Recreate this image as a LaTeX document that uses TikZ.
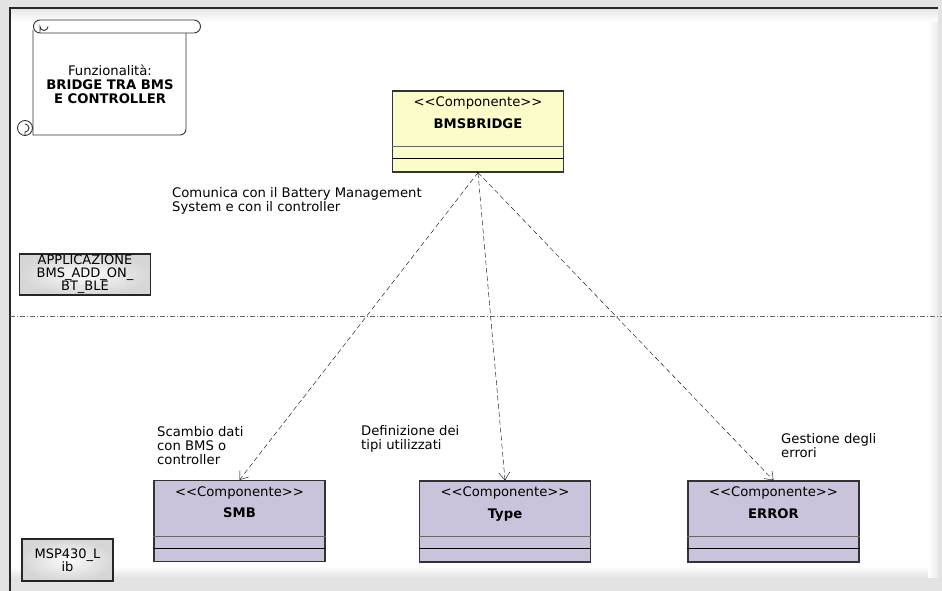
\documentclass[tikz,border=0pt]{standalone}
\usepackage{fontspec}
\setmainfont{DejaVu Sans}
\usepackage{tikz}
\usetikzlibrary{arrows.meta}
\definecolor{compyellow}{HTML}{FCFCCB}
\definecolor{complilac}{HTML}{CBC3DC}
\tikzset{
  every node/.style={font=\fontsize{13.2}{14}\selectfont, inner sep=0pt},
  compbox/.style={draw=black!80, line width=1.2pt, minimum width=171pt, minimum height=81pt},
  tagbox/.style={draw=black!85, line width=1.5pt, shading=radial, inner color=gray!3, outer color=gray!32, align=center, font=\fontsize{13}{13}\selectfont},
  dep/.style={dash pattern=on 5pt off 3pt, -{Straight Barb[length=7.5pt,width=11pt]}},
  note/.style={anchor=north west, align=left},
  roll/.style={draw=black!80, line width=0.9pt, fill=white},
}

\begin{document}
\begin{tikzpicture}[x=1pt, y=-1pt]
\newcommand{\component}[4]{
  \node[compbox, fill=#3] (#1) at (#2) {};
  \node[anchor=base] (#1-st) at ([yshift=-16.5]#1.north) {<{}<Componente>{}>};
  \node[anchor=base, font=\fontsize{13.2}{14}\selectfont\bfseries] (#1-nm) at ([yshift=-38]#1.north) {#4};
  \draw[black!60] ([yshift=26]#1.south west) -- ([yshift=26]#1.south east);
  \draw[black] ([yshift=14]#1.south west) -- ([yshift=14]#1.south east);
}
\useasboundingbox (0,0) rectangle (942,591);
%% frame
\fill[black!11] (0,0) rectangle (942,591);
\fill[white] (10,8) rectangle (938,577);
\shade[top color=white, bottom color=black!11] (10,566) rectangle (938,578);
\shade[left color=white, right color=black!8] (928,8) rectangle (938,577);
\shade[top color=black!10, bottom color=white] (10,8) rectangle (938,22);
\draw[line width=1.6pt, black!85] (10,591) -- (10,8) -- (938,8);

%% scroll
\draw[roll] (33,30) -- (33,135) -- (180,135) arc[start angle=90, end angle=0, radius=6] -- (186,30);
\draw[roll] (40,20) -- (194,20) arc[start angle=-90, end angle=90, radius=6.5] -- (40,33) arc[start angle=90, end angle=270, radius=6.5] -- cycle;
\draw[black!80, line width=0.9pt] (48,26.5) arc[start angle=0, end angle=180, radius=4] -- (40,33);
\draw[roll] (25,128) circle[radius=7.5];
\draw[black!80, line width=0.9pt] (25,124) arc[start angle=-90, end angle=90, radius=4] -- (25,135.5);
\node[align=center] (func) at (110,84) {Funzionalità:\\\textbf{BRIDGE TRA BMS}\\\textbf{E CONTROLLER}};

%% layers
\node[tagbox, minimum width=131, minimum height=41] (app) at (85,274.5) {APPLICAZIONE\\BMS\_ADD\_ON\_\\BT\_BLE};
\node[tagbox, minimum width=91, minimum height=42] (lib) at (67.5,560) {MSP430\_L\\ib};
\draw[black!60, dash pattern=on 5pt off 2pt on 1pt off 2pt] (10,316) -- (942,316);

%% components
\component{bridge}{478,131.5}{compyellow}{BMSBRIDGE}
\component{smb}{239.5,521}{complilac}{SMB}
\component{type}{505,521.5}{complilac}{Type}
\component{error}{773.5,521.5}{complilac}{ERROR}

\draw[dep] (bridge.south) -- (smb.north);
\draw[dep] (bridge.south) -- (type.north);
\draw[dep] (bridge.south) -- (error.north);

\node[note] (n-bridge) at (172,187) {Comunica con il Battery Management\\System e con il controller};
\node[note] (n-smb) at (157,426) {Scambio dati\\con BMS o\\controller};
\node[note] (n-type) at (361,425) {Definizione dei\\tipi utilizzati};
\node[note] (n-error) at (781,433) {Gestione degli\\errori};
\end{tikzpicture}
\end{document}
